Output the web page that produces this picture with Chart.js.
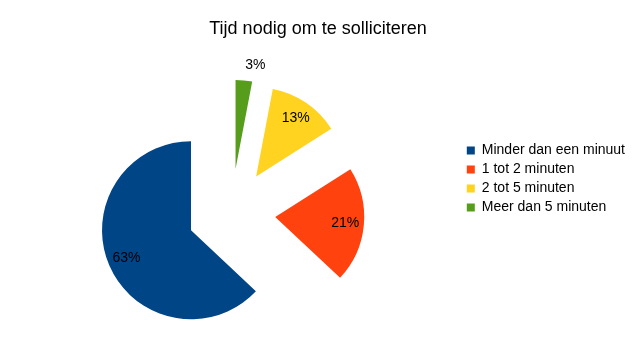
<!DOCTYPE html>
<html lang="nl">
<head>
<meta charset="utf-8">
<title>Tijd nodig om te solliciteren</title>
<script src="https://cdn.jsdelivr.net/npm/chart.js@4.4.0/dist/chart.umd.min.js"></script>
<style>
    html, body { margin: 0; padding: 0; background: #fff; }
    #wrap { width: 640px; height: 360px; }
</style>
</head>
<body>
<div id="wrap"><canvas id="tijdChart"></canvas></div>
<script>
/* ===== DATA ===== */
const categorieen = ['Minder dan een minuut', '1 tot 2 minuten', '2 tot 5 minuten', 'Meer dan 5 minuten'];
const percentages = [63, 21, 13, 3];
const kleuren = ['#004586', '#ff420e', '#ffd320', '#579d1c'];

// LibreOffice tekent tegen de klok in vanaf 12 uur, Chart.js met de klok mee:
// daarom de volgorde omdraaien en de legenda weer terugdraaien
const labelsCW = categorieen.slice().reverse();
const waardenCW = percentages.slice().reverse();
const kleurenCW = kleuren.slice().reverse();

const FONT = "'Liberation Sans', Arial, sans-serif";
const UITSPRONG = 44;   // afstand waarmee elk segment naar buiten schuift

// Segmenten naar buiten schuiven (geëxplodeerde taart)
const explodePlugin = {
    id: 'explode',
    beforeDatasetsDraw(chart) {
        const area = chart.chartArea;
        const cx = (area.left + area.right) / 2;
        const cy = (area.top + area.bottom) / 2;
        chart.getDatasetMeta(0).data.forEach(arc => {
            const mid = (arc.startAngle + arc.endAngle) / 2;
            arc.x = cx + Math.cos(mid) * UITSPRONG;
            arc.y = cy + Math.sin(mid) * UITSPRONG;
        });
    }
};

// Percentages in / naast de segmenten
const percentPlugin = {
    id: 'percentLabels',
    afterDatasetsDraw(chart) {
        const ctx = chart.ctx;
        const data = chart.data.datasets[0].data;
        const totaal = data.reduce((a, b) => a + b, 0);
        ctx.save();
        ctx.font = '14px ' + FONT;
        ctx.fillStyle = '#000';
        ctx.textBaseline = 'middle';
        chart.getDatasetMeta(0).data.forEach((arc, i) => {
            const pct = Math.round(data[i] / totaal * 100);
            const mid = (arc.startAngle + arc.endAngle) / 2;
            const binnen = pct >= 5;
            const r = binnen ? arc.outerRadius * 0.79 : arc.outerRadius + 15;
            ctx.textAlign = binnen ? 'center' : 'left';
            ctx.fillText(pct + '%', arc.x + Math.cos(mid) * r, arc.y + Math.sin(mid) * r);
        });
        ctx.restore();
    }
};

const tijdChart = new Chart(document.getElementById('tijdChart'), {
    type: 'pie',
    data: {
        labels: labelsCW,
        datasets: [{
            data: waardenCW,
            backgroundColor: kleurenCW,
            borderWidth: 0
        }]
    },
    options: {
        responsive: true,
        maintainAspectRatio: false,
        animation: false,
        events: [],
        radius: 89,
        layout: { padding: { left: 1, right: 5, top: 0, bottom: 2 } },
        plugins: {
            title: {
                display: true,
                text: 'Tijd nodig om te solliciteren',
                color: '#000',
                font: { family: FONT, size: 18, weight: 'normal' },
                padding: { top: 18, bottom: 28 }
            },
            legend: {
                position: 'right',
                reverse: true,
                labels: {
                    color: '#000',
                    font: { family: FONT, size: 14 },
                    boxWidth: 8,
                    boxHeight: 8,
                    padding: 5
                }
            },
            tooltip: { enabled: false }
        }
    },
    plugins: [explodePlugin, percentPlugin]
});
</script>
</body>
</html>
